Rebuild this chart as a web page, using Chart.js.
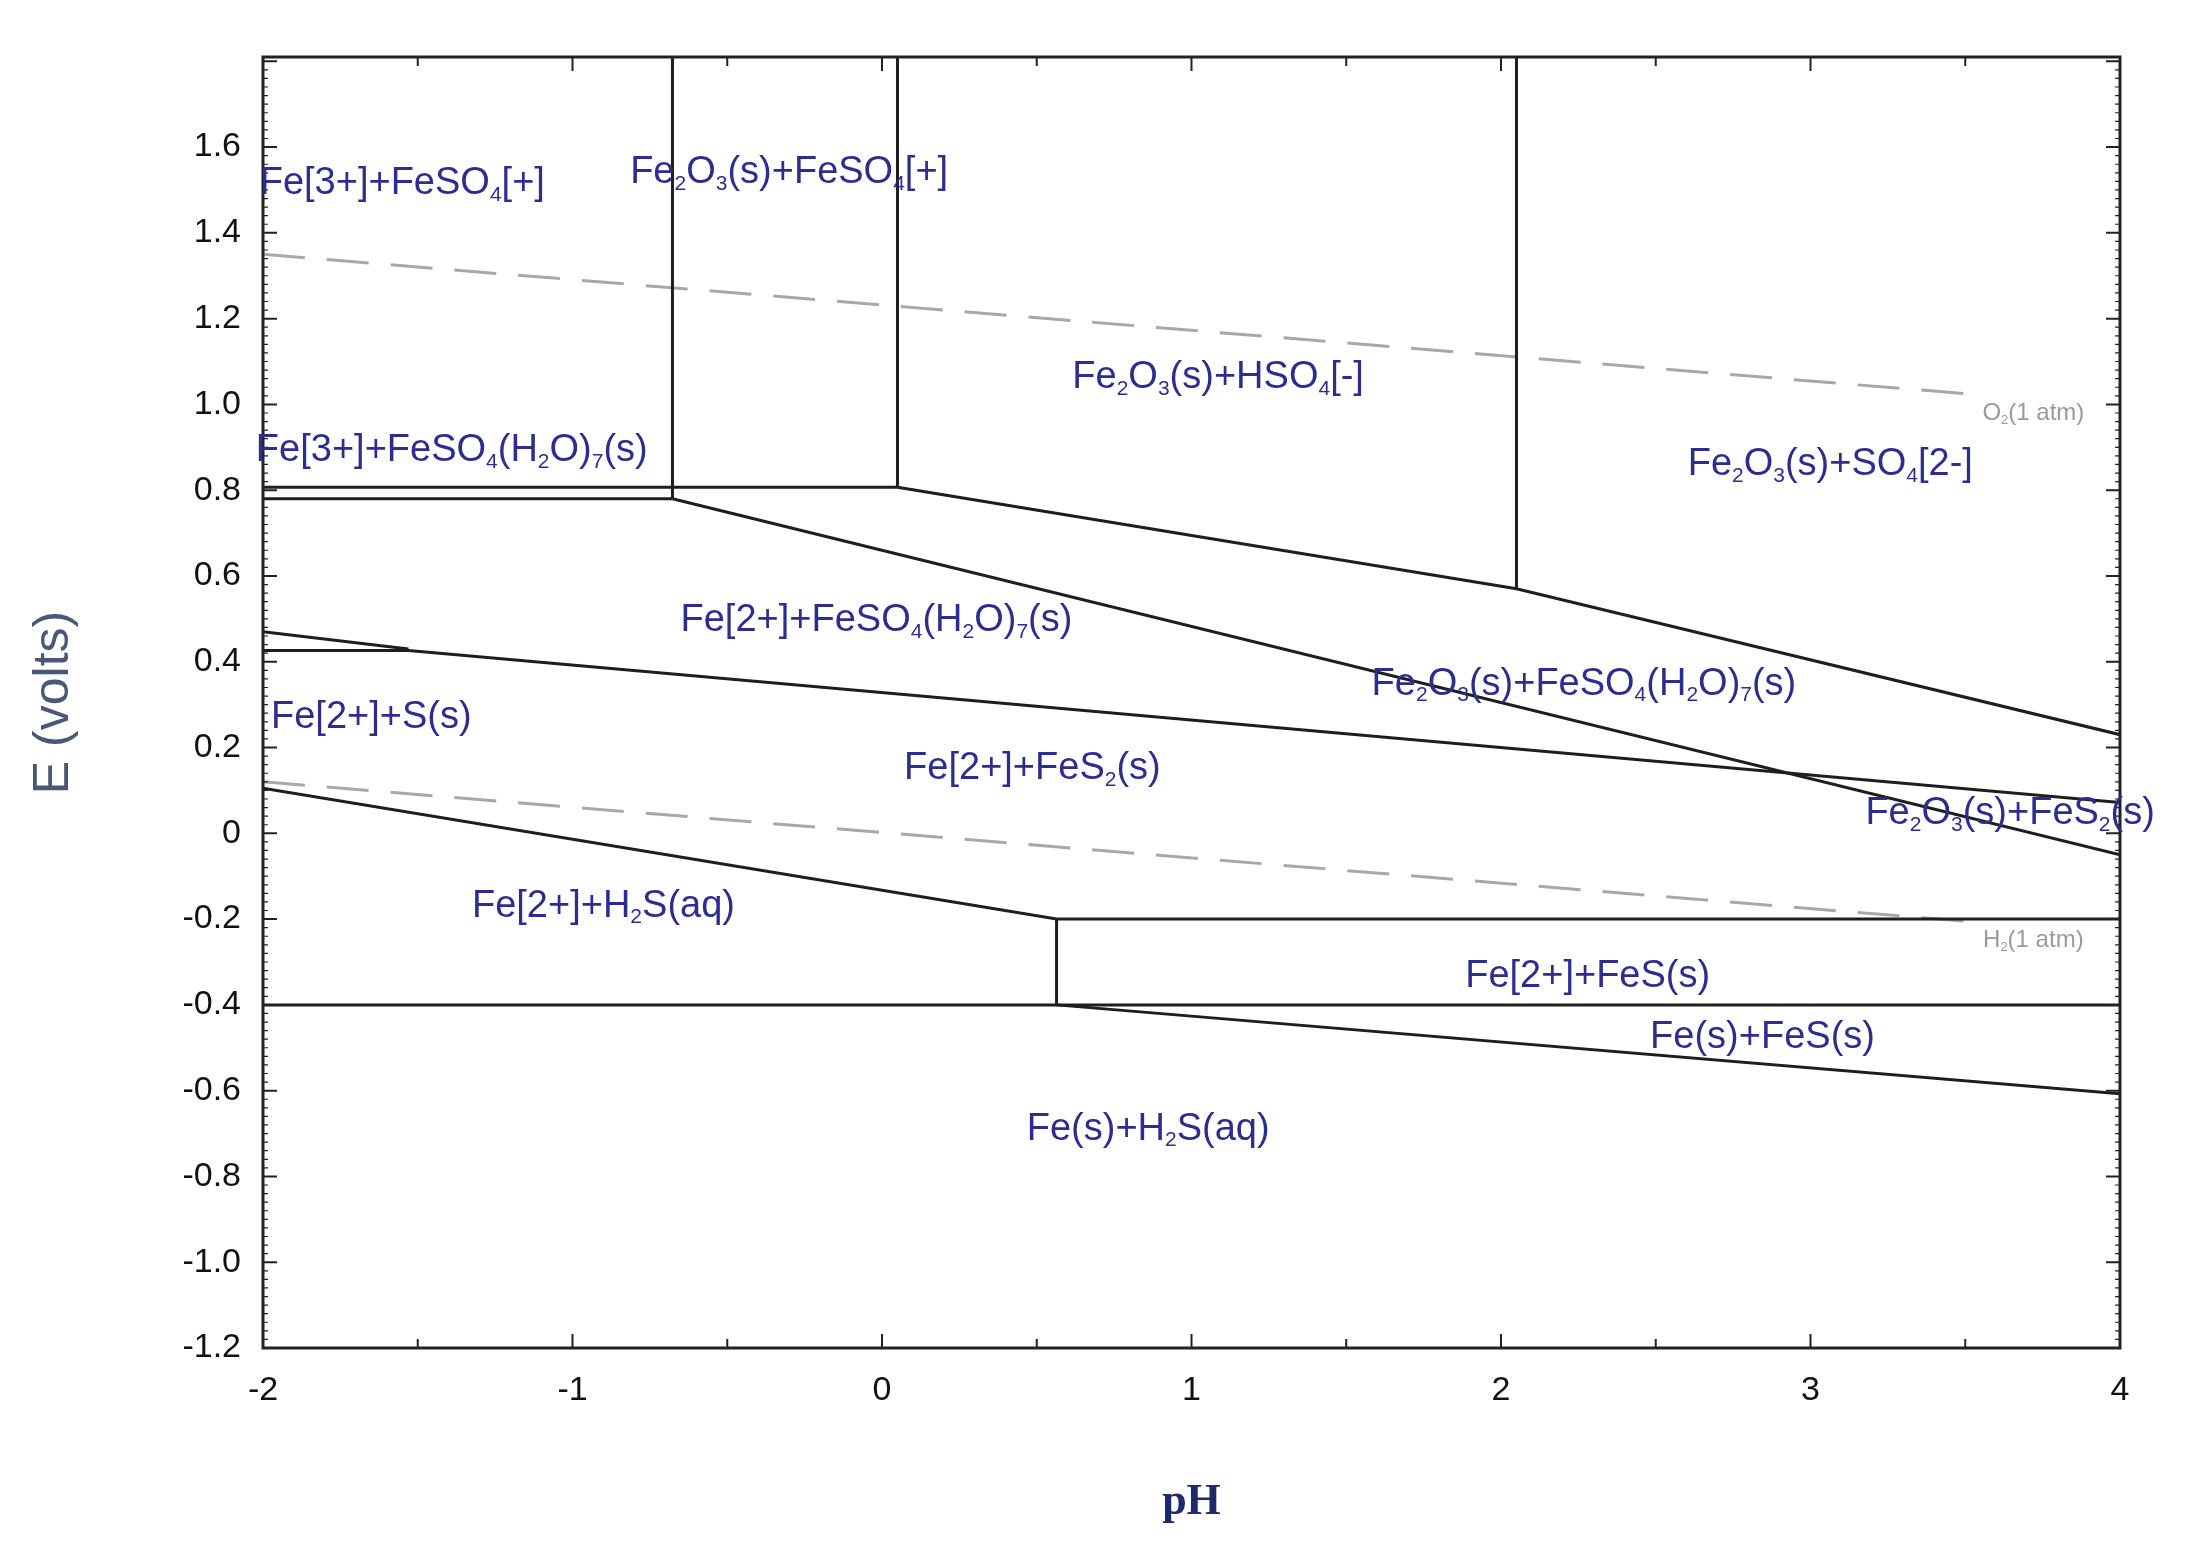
<!DOCTYPE html>
<html>
<head>
<meta charset="utf-8">
<script src="https://cdn.jsdelivr.net/npm/chart.js@4.4.1/dist/chart.umd.min.js"></script>
<style>
  html, body { margin: 0; padding: 0; background: #fff; }
  #wrap { width: 2208px; height: 1553px; }
</style>
</head>
<body>
<div id="wrap"><canvas id="chart"></canvas></div>
<script>
const xTicks = [-2, -1, 0, 1, 2, 3, 4]
const yTicks = [-1.2, -1.0, -0.8, -0.6, -0.4, -0.2, 0, 0.2, 0.4, 0.6, 0.8, 1.0, 1.2, 1.4, 1.6]

// solid phase boundaries, each one a polyline of [pH, E]
const boundaries = [
  [[-0.677, 1.81], [-0.677, 0.78]],
  [[0.05, 1.81], [0.05, 0.807]],
  [[2.05, 1.81], [2.05, 0.57]],
  [[-2, 0.807], [0.05, 0.807]],
  [[-2, 0.78], [-0.677, 0.78]],
  [[-0.677, 0.78], [4, -0.05]],
  [[0.05, 0.807], [2.05, 0.57], [4, 0.23]],
  [[-2, 0.426], [-1.53, 0.426], [4, 0.072]],
  [[-2, 0.47], [-1.53, 0.43]],
  [[-2, 0.105], [0.564, -0.2], [4, -0.2]],
  [[0.564, -0.2], [0.564, -0.4]],
  [[-2, -0.4], [4, -0.4]],
  [[0.564, -0.4], [4, -0.607]]
]
// water stability lines
const waterLines = [
  [[-2, 1.35], [3.5, 1.025]],
  [[-2, 0.12], [3.5, -0.205]]
]

const labelText = [
  'Fe[3+]+FeSO_4[+]', 'Fe_2O_3(s)+FeSO_4[+]', 'Fe_2O_3(s)+HSO_4[-]', 'Fe_2O_3(s)+SO_4[2-]',
  'Fe[3+]+FeSO_4(H_2O)_7(s)', 'Fe[2+]+FeSO_4(H_2O)_7(s)', 'Fe_2O_3(s)+FeSO_4(H_2O)_7(s)',
  'Fe[2+]+S(s)', 'Fe[2+]+FeS_2(s)', 'Fe_2O_3(s)+FeS_2(s)', 'Fe[2+]+H_2S(aq)',
  'Fe[2+]+FeS(s)', 'Fe(s)+FeS(s)', 'Fe(s)+H_2S(aq)'
]
const labelX = [-1.55, -0.3, 1.086, 3.064, -1.39, -0.018, 2.268, -1.65, 0.486, 3.645, -0.9, 2.28, 2.845, 0.86]
const labelY = [1.515, 1.54, 1.062, 0.859, 0.892, 0.495, 0.348, 0.269, 0.151, 0.046, -0.17, -0.334, -0.475, -0.69]

const gasText = ['O_2(1 atm)', 'H_2(1 atm)']
const gasX = [3.72, 3.72]
const gasY = [0.98, -0.25]

const toPoints = line => line.map(p => ({ x: p[0], y: p[1] }))

const datasets = []
boundaries.forEach(line => {
  datasets.push({ data: toPoints(line), borderColor: '#1e1e1e', borderWidth: 3 })
})
waterLines.forEach(line => {
  datasets.push({ data: toPoints(line), borderColor: '#a8a8a8', borderWidth: 3, borderDash: [42, 22] })
})

// draws "A_2B" style text with subscripts
function drawRich(ctx, text, cx, cy, size, color) {
  const parts = []
  for (let i = 0; i < text.length; i++) {
    if (text[i] === '_') { parts.push({ t: text[i + 1], sub: true }); i++ }
    else parts.push({ t: text[i], sub: false })
  }
  const big = `${size}px "Liberation Sans", Arial, sans-serif`
  const small = `${Math.round(size * 0.55)}px "Liberation Sans", Arial, sans-serif`
  let w = 0
  parts.forEach(p => { ctx.font = p.sub ? small : big; p.w = ctx.measureText(p.t).width; w += p.w })
  let x = cx - w / 2
  ctx.fillStyle = color
  ctx.textBaseline = 'middle'
  ctx.textAlign = 'left'
  parts.forEach(p => {
    ctx.font = p.sub ? small : big
    ctx.fillText(p.t, x, p.sub ? cy + size * 0.3 : cy)
    x += p.w
  })
}

const decorations = {
  id: 'decorations',
  afterDatasetsDraw(chart) {
    const { ctx, chartArea: a, scales: { x, y } } = chart
    ctx.save()
    ctx.strokeStyle = '#222'
    ctx.lineWidth = 2
    // inward ticks, all four sides
    for (let v = -2; v <= 4.001; v += 0.5) {
      const px = x.getPixelForValue(v)
      const len = Math.abs(v - Math.round(v)) < 0.01 ? 14 : 9
      ctx.beginPath()
      ctx.moveTo(px, a.bottom); ctx.lineTo(px, a.bottom - len)
      ctx.moveTo(px, a.top); ctx.lineTo(px, a.top + len)
      ctx.stroke()
    }
    for (let k = -60; k <= 90; k++) {
      const v = k * 0.02
      const py = y.getPixelForValue(v)
      const len = k % 10 === 0 ? 14 : 5
      ctx.lineWidth = k % 10 === 0 ? 2 : 1.2
      ctx.beginPath()
      ctx.moveTo(a.left, py); ctx.lineTo(a.left + len, py)
      ctx.moveTo(a.right, py); ctx.lineTo(a.right - len, py)
      ctx.stroke()
    }
    ctx.lineWidth = 3
    ctx.strokeRect(a.left, a.top, a.right - a.left, a.bottom - a.top)

    labelText.forEach((t, i) => {
      drawRich(ctx, t, x.getPixelForValue(labelX[i]), y.getPixelForValue(labelY[i]), 38, '#2d2d8f')
    })
    gasText.forEach((t, i) => {
      drawRich(ctx, t, x.getPixelForValue(gasX[i]), y.getPixelForValue(gasY[i]), 24, '#9a9a9a')
    })
    ctx.restore()
  }
}

new Chart(document.getElementById('chart'), {
  type: 'line',
  data: { datasets },
  options: {
    responsive: true,
    maintainAspectRatio: false,
    animation: false,
    devicePixelRatio: 1,
    layout: { padding: { left: 20, right: 88, top: 57, bottom: 20 } },
    elements: { point: { radius: 0 } },
    datasets: { line: { fill: false, tension: 0 } },
    plugins: { legend: { display: false }, tooltip: { enabled: false } },
    scales: {
      x: {
        type: 'linear', min: -2, max: 4,
        afterBuildTicks: s => { s.ticks = xTicks.map(v => ({ value: v })) },
        afterFit: s => { s.height = 1553 - 1354 - 14 },
        grid: { display: false },
        border: { display: false },
        ticks: { color: '#111', font: { size: 34, family: '"Liberation Sans", Arial' }, padding: 14 },
        title: { display: true, text: 'pH', color: '#1f2a6a', padding: { top: 0 },
          font: { size: 44, weight: 'bold', family: '"Liberation Serif", "Times New Roman", serif' } }
      },
      y: {
        type: 'linear', min: -1.2, max: 1.81,
        afterBuildTicks: s => { s.ticks = yTicks.map(v => ({ value: v })) },
        afterFit: s => { s.width = 263 - 20 },
        grid: { display: false },
        border: { display: false },
        ticks: { color: '#111', font: { size: 34, family: '"Liberation Sans", Arial' }, padding: 14,
          callback: v => Math.abs(v) < 1e-9 ? '0' : v.toFixed(1) },
        title: { display: true, text: 'E (volts)', color: '#4a5878', padding: { bottom: 40 },
          font: { size: 50, family: '"Liberation Sans", Arial' } }
      }
    }
  },
  plugins: [decorations]
})
</script>
</body>
</html>
